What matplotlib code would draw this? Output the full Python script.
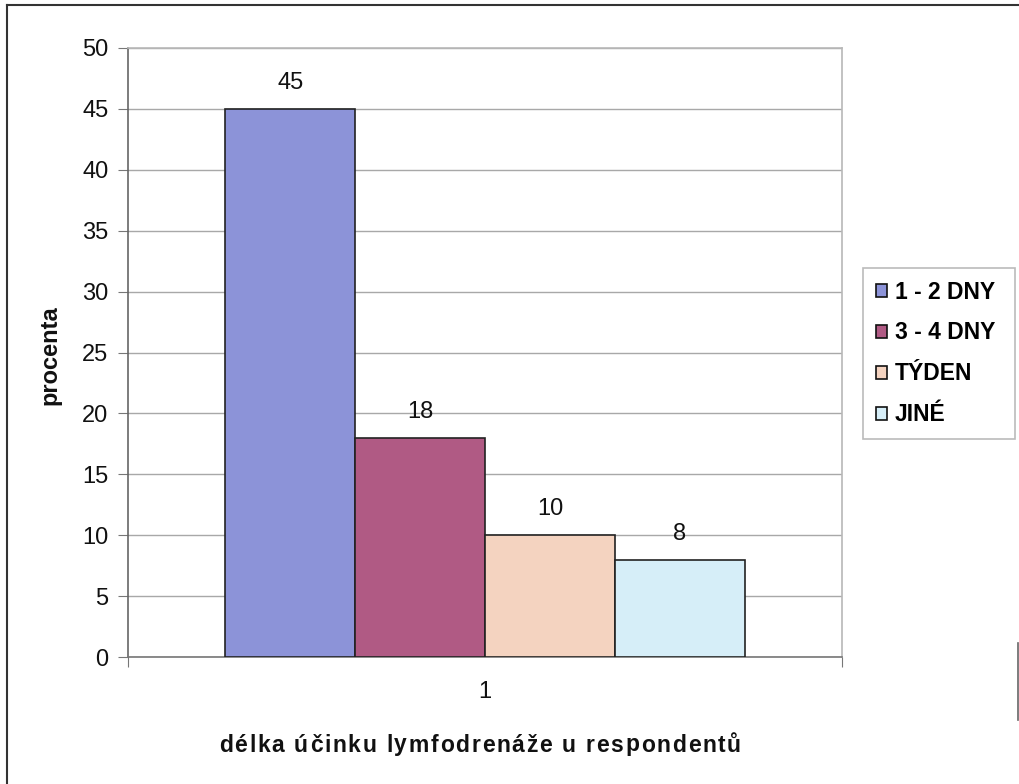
import matplotlib
matplotlib.use("Agg")
import matplotlib.pyplot as plt
from matplotlib.lines import Line2D

plt.rcParams['font.family'] = ['Liberation Sans', 'DejaVu Sans']

# chart data
categories = ["1"]
series_names = ["1 - 2 DNY", "3 - 4 DNY", "TÝDEN", "JINÉ"]
series_values = [45, 18, 10, 8]
series_colors = ["#8c93d8", "#b05a84", "#f4d3c0", "#d6eef8"]
y_ticks = [0, 5, 10, 15, 20, 25, 30, 35, 40, 45, 50]
x_title = "délka účinku lymfodrenáže u respondentů"
y_title = "procenta"

W, H = 1020, 784
fig = plt.figure(figsize=(W / 100, H / 100), dpi=100)
ax = fig.add_axes([128 / W, 1 - 657 / H, (842 - 128) / W, (657 - 48) / H])

n = len(series_values)
gap = 1.5
bw = 1.0 / (n + gap)
for i, (name, val, col) in enumerate(zip(series_names, series_values, series_colors)):
    x = 1 + (i - (n - 1) / 2) * bw
    ax.bar(x, val, width=bw, color=col, edgecolor="#222222", linewidth=1.2,
           label=name, zorder=3)
    ax.annotate(str(val), (x, val), xytext=(0, 15), textcoords="offset pixels",
                ha="center", va="bottom", fontsize=17, color="#111111", zorder=4)

ax.set_xlim(0.5, 1.5)
ax.set_ylim(0, 50)
ax.set_yticks(y_ticks)
ax.set_yticklabels([str(t) for t in y_ticks], fontsize=17, color="#111111")
ax.set_xticks([0.5, 1.5], minor=False)
ax.set_xticklabels(["", ""])
ax.set_xticks([1], minor=True)
ax.set_xticklabels(categories, minor=True, fontsize=17, color="#111111")
ax.tick_params(axis="x", which="minor", length=0, pad=17)
ax.tick_params(axis="x", which="major", length=7, color="#777777", direction="out")
ax.tick_params(axis="y", length=7, color="#777777", direction="out", pad=7)

ax.grid(axis="y", color="#a8a8a8", linewidth=1.0, zorder=0)
for side in ["top", "right"]:
    ax.spines[side].set_color("#b8b8b8")
    ax.spines[side].set_linewidth(1.2)
ax.spines["left"].set_color("#666666")
ax.spines["bottom"].set_color("#777777")
ax.spines["left"].set_linewidth(1.2)
ax.spines["bottom"].set_linewidth(1.2)

fig.text(50 / W, 1 - 355 / H, y_title, rotation=90, ha="center", va="center",
         fontsize=17, fontweight="bold", color="#111111")


def tracked_text(s, cx, cy, total_px, **kw):
    """Draw a string centred at (cx, cy) in pixels with letters spread to total_px."""
    renderer = fig.canvas.get_renderer()

    def width(txt):
        t = fig.text(0, 0, txt, **kw)
        w = t.get_window_extent(renderer).width
        t.remove()
        return w

    bar_w = width("|")
    starts = [width(s[:i] + "|") - bar_w if i else 0.0 for i in range(len(s))]
    natural = width(s)
    extra = (total_px - natural) / max(len(s) - 1, 1)
    x0 = cx - total_px / 2
    for i, ch in enumerate(s):
        if ch != " ":
            fig.text((x0 + starts[i] + i * extra) / W, 1 - cy / H, ch,
                     ha="left", va="center", **kw)


tracked_text(x_title, 480, 745, 522, fontsize=16.5, fontweight="bold", color="#111111")

leg_h = (436 - 268) / H
leg = fig.legend(loc="upper left",
                 bbox_to_anchor=(863 / W, 1 - 436 / H, 152 / W, leg_h),
                 mode="expand",
                 prop={"weight": "bold", "size": 16.5},
                 frameon=True, fancybox=False, edgecolor="#aaaaaa",
                 handlelength=0.5, handleheight=0.5, handletextpad=0.35,
                 labelspacing=0.78, borderpad=0.55, borderaxespad=0)
leg.get_frame().set_linewidth(1.2)
for patch in leg.get_patches():
    patch.set_edgecolor("#111111")
    patch.set_linewidth(1.2)

# outer chart frame
fig.add_artist(Line2D([7 / W, 7 / W], [0, 1 - 5 / H], transform=fig.transFigure,
                      color="#333333", linewidth=1.5))
fig.add_artist(Line2D([7 / W, 1], [1 - 5 / H, 1 - 5 / H], transform=fig.transFigure,
                      color="#333333", linewidth=1.5))
fig.add_artist(Line2D([1018 / W, 1018 / W], [1 - 720 / H, 1 - 643 / H],
                      transform=fig.transFigure, color="#666666", linewidth=1.2))

fig.savefig("out.png", dpi=100)
